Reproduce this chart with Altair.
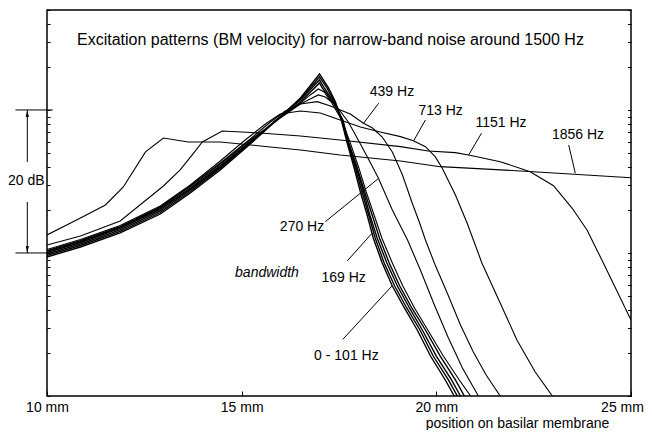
import math
import altair as alt
import pandas as pd

# ---------------- data: position on basilar membrane (mm) / level (dB) ----------------
# bundle of narrow-band curves (0 - 101 Hz)
bw0_mm = [10.00, 10.86, 11.88, 12.91, 13.68, 14.45, 15.22, 15.99, 16.51, 17.00,
          17.23, 17.41, 17.56, 17.71, 17.89, 18.05, 18.23, 18.38, 18.61, 18.87, 19.18, 19.51, 19.85, 20.23, 20.46]
bw0_db = [19.44, 20.84, 22.80, 25.45, 28.39, 31.61, 35.24, 39.02, 41.68, 45.03,
          43.08, 41.12, 38.60, 35.38, 31.89, 28.53, 25.17, 22.10, 18.60, 15.38, 12.31, 9.23, 5.59, 2.24, 0.00]
bw1_mm = [10.00, 10.86, 11.88, 12.91, 13.68, 14.45, 15.22, 15.99, 16.51, 17.00,
          17.19, 17.39, 17.57, 17.73, 17.92, 18.09, 18.27, 18.43, 18.66, 18.93, 19.24, 19.58, 19.92, 20.31, 20.54]
bw1_db = [19.65, 21.05, 23.01, 25.66, 28.60, 31.82, 35.38, 39.09, 41.54, 44.62,
          43.08, 41.12, 38.60, 35.38, 31.89, 28.53, 25.17, 22.10, 18.60, 15.38, 12.31, 9.23, 5.59, 2.24, 0.00]
bw2_mm = [10.00, 10.86, 11.88, 12.91, 13.68, 14.45, 15.22, 15.99, 16.51, 17.00,
          17.12, 17.37, 17.59, 17.74, 17.95, 18.13, 18.30, 18.48, 18.73, 19.00, 19.31, 19.64, 20.00, 20.39, 20.62]
bw2_db = [19.86, 21.26, 23.22, 25.87, 28.81, 31.96, 35.45, 39.09, 41.40, 44.20,
          43.08, 41.12, 38.60, 35.38, 31.89, 28.53, 25.17, 22.10, 18.60, 15.38, 12.31, 9.23, 5.59, 2.24, 0.00]
bw3_mm = [10.00, 10.86, 11.88, 12.91, 13.68, 14.45, 15.22, 15.99, 16.51, 17.00,
          17.07, 17.34, 17.60, 17.75, 17.97, 18.16, 18.36, 18.54, 18.79, 19.06, 19.37, 19.72, 20.10, 20.49, 20.72]
bw3_db = [20.07, 21.47, 23.43, 26.08, 28.95, 32.10, 35.52, 39.02, 41.12, 43.78,
          43.08, 41.12, 38.60, 35.38, 31.89, 28.53, 25.17, 22.10, 18.60, 15.38, 12.31, 9.23, 5.59, 2.24, 0.00]

bw169_mm = [10.00, 10.86, 11.88, 12.91, 13.68, 14.45, 15.22, 15.99, 16.51, 16.76, 16.97, 17.12, 17.30,
            17.57, 17.79, 18.01, 18.20, 18.41, 18.60, 18.87, 19.14, 19.44, 19.78, 20.18, 20.59, 20.88]
bw169_db = [20.21, 21.61, 23.57, 26.22, 29.09, 32.24, 35.59, 38.95, 40.98, 42.10, 42.94, 42.52, 41.12,
            38.60, 35.38, 31.89, 28.53, 25.17, 22.10, 18.60, 15.38, 12.31, 9.23, 5.59, 2.24, 0.00]

bw270_mm = [10.00, 10.86, 11.88, 12.91, 13.68, 14.45, 15.22, 15.99, 16.51, 16.76, 16.97, 17.15, 17.41,
            17.74, 18.05, 18.31, 18.51, 18.87, 19.26, 19.59, 19.95, 20.31, 20.67, 21.08]
bw270_db = [20.28, 21.68, 23.64, 26.36, 29.30, 32.45, 35.80, 38.88, 40.84, 41.54, 42.10, 41.82, 40.70,
            38.32, 35.24, 32.59, 30.49, 26.01, 21.82, 17.62, 12.73, 8.11, 3.92, 0.00]

bw439_mm = [10.00, 10.86, 11.88, 12.91, 13.68, 14.45, 15.22, 15.74, 16.12, 16.51, 16.94, 17.28, 17.79,
            18.12, 18.36, 18.61, 18.87, 19.13, 19.38, 19.59, 19.72, 19.97, 20.28, 20.62, 20.95, 21.28, 21.64]
bw439_db = [20.35, 21.75, 23.71, 26.43, 29.37, 32.59, 35.94, 38.32, 39.86, 40.84, 41.16, 40.56, 39.44,
            38.18, 37.48, 36.22, 34.13, 30.91, 26.99, 23.92, 21.82, 18.32, 14.41, 9.93, 6.15, 2.94, 0.00]

bw713_mm = [10.00, 10.86, 11.88, 12.91, 13.68, 14.45, 15.09, 15.61, 15.99, 16.51, 17.02, 17.53, 18.05,
            18.56, 19.08, 19.41, 19.72, 19.97, 20.15, 20.49, 20.79, 21.17, 21.64, 22.07, 22.54, 22.98]
bw713_db = [20.49, 21.89, 23.84, 26.57, 29.51, 32.87, 35.80, 38.04, 39.44, 39.86, 39.58, 38.60, 37.62,
            36.92, 36.27, 35.71, 34.87, 33.47, 31.89, 28.11, 24.20, 18.60, 13.01, 7.83, 3.36, 0.00]

bw1151_mm = [10.00, 10.86, 11.88, 12.99, 13.42, 13.73, 13.99, 14.50, 15.48, 16.51, 17.53, 19.08, 19.79,
             20.49, 20.83, 21.64, 22.41, 23.01, 23.49, 23.87, 24.29, 25.00]
bw1151_db = [21.12, 22.38, 24.48, 29.37, 31.61, 33.71, 35.52, 37.06, 36.78, 36.36, 35.80, 34.87, 34.27,
             34.03, 33.71, 32.77, 31.37, 29.41, 26.25, 23.22, 18.60, 10.63]

bw1856_mm = [10.00, 10.86, 11.50, 11.96, 12.53, 12.99, 13.63, 14.45, 15.48, 16.51, 17.53, 19.08, 20.10, 22.49, 25.00]
bw1856_db = [22.52, 24.90, 26.71, 29.23, 34.13, 36.08, 35.52, 35.52, 34.97, 34.41, 33.71, 32.87, 32.07, 31.37, 30.53]

curves = [
    ("0 Hz", bw0_mm, bw0_db, 1.4), ("b1", bw1_mm, bw1_db, 1.4), ("b2", bw2_mm, bw2_db, 1.4),
    ("101 Hz", bw3_mm, bw3_db, 1.4), ("169 Hz", bw169_mm, bw169_db, 1.1), ("270 Hz", bw270_mm, bw270_db, 1.1),
    ("439 Hz", bw439_mm, bw439_db, 1.1), ("713 Hz", bw713_mm, bw713_db, 1.1),
    ("1151 Hz", bw1151_mm, bw1151_db, 1.1), ("1856 Hz", bw1856_mm, bw1856_db, 1.1),
]

# annotation texts
label_text = ["439 Hz", "713 Hz", "1151 Hz", "1856 Hz", "270 Hz", "169 Hz", "0 - 101 Hz"]
label_mm = [18.86, 20.11, 21.66, 23.64, 16.55, 17.62, 17.69]
label_db = [42.45, 39.86, 38.14, 36.50, 23.68, 16.46, 5.59]
# leader lines from label to curve
lead_mm = [18.52, 19.72, 21.16, 23.40, 17.15, 17.71, 17.60]
lead_db = [40.94, 38.60, 36.74, 35.10, 24.38, 18.88, 7.93]
lead_mm2 = [18.13, 19.42, 20.83, 23.57, 18.52, 18.35, 18.86]
lead_db2 = [38.14, 35.71, 33.71, 31.15, 30.45, 22.76, 15.38]

title_text = "Excitation patterns (BM velocity) for narrow-band noise around 1500 Hz"
x_tick_values = [10, 15, 20, 25]
x_title = "position on basilar membrane"
# minor ticks of a logarithmic amplitude axis (1..9 per decade), expressed in dB
y_ticks = [round(20 * math.log10(m * d), 3) for d in (1, 10, 100) for m in range(1, 10) if m * d <= 500]
y_domain = [0, 20 * math.log10(500)]

# ---------------- build tables ----------------
rows = []
for name, xs, ys, w in curves:
    for i, (a, b) in enumerate(zip(xs, ys)):
        rows.append({"curve": name, "mm": a, "dB": b, "i": i, "w": w})
df = pd.DataFrame(rows)

FONT = "Liberation Sans"
xscale = alt.Scale(domain=[10, 25], nice=False, zero=False)
yscale = alt.Scale(domain=y_domain, nice=False, zero=False)

xaxis = alt.Axis(values=x_tick_values, labelExpr="datum.value + ' mm'", title=x_title,
                 grid=False, domain=False, tickSize=5, offset=-5, labelPadding=4,
                 labelFontSize=14, labelFont=FONT, labelFlush=False, labelColor="black",
                 labelOffset={"condition": {"test": "datum.value == 25", "value": -9},
                              "value": 0},
                 titleFont=FONT, titleFontSize=14, titleFontWeight="normal", titleColor="black",
                 titleX=470, titleY=36, titleAlign="center", titleBaseline="alphabetic",
                 tickColor="black", orient="bottom")
yaxis_left = alt.Axis(values=y_ticks, labels=False, title=None, grid=False, domain=False,
                      tickSize=3, offset=-3, orient="left", tickColor="black")
yaxis_right = alt.Axis(values=y_ticks, labels=False, title=None, grid=False, domain=False,
                       tickSize=3.5, offset=-3.5, orient="right", tickColor="black")

lines = alt.Chart(df).mark_line(color="black", strokeJoin="miter", clip=True).encode(
    x=alt.X("mm:Q", scale=xscale, axis=xaxis),
    y=alt.Y("dB:Q", scale=yscale, axis=yaxis_left),
    detail="curve:N",
    order="i:Q",
    strokeWidth=alt.StrokeWidth("w:Q", scale=None),
)

right_ticks = alt.Chart(pd.DataFrame({"dB": y_ticks})).mark_point(opacity=0).encode(
    y=alt.Y("dB:Q", scale=yscale, axis=yaxis_right),
)

lab_df = pd.DataFrame({"t": label_text, "mm": label_mm, "dB": label_db})
labels = alt.Chart(lab_df).mark_text(font=FONT, fontSize=14, color="black", align="center",
                                      baseline="middle").encode(
    x=alt.X("mm:Q", scale=xscale, axis=None), y=alt.Y("dB:Q", scale=yscale, axis=None), text="t:N")

lead_df = pd.DataFrame({"mm": lead_mm, "dB": lead_db, "mm2": lead_mm2, "dB2": lead_db2})
leads = alt.Chart(lead_df).mark_rule(color="black", strokeWidth=1).encode(
    x=alt.X("mm:Q", scale=xscale, axis=None), y=alt.Y("dB:Q", scale=yscale, axis=None),
    x2="mm2:Q", y2="dB2:Q")

# 20 dB scale bar, left of the frame
bar_df = pd.DataFrame({"mm": [9.19, 9.19, 9.494, 9.494], "dB": [40, 20, 40, 27.13],
                       "mm2": [10.15, 10.15, 9.494, 9.494], "dB2": [40, 20, 32.73, 20]})
bar = alt.Chart(bar_df).mark_rule(color="black", strokeWidth=1).encode(
    x=alt.X("mm:Q", scale=xscale, axis=None), y=alt.Y("dB:Q", scale=yscale, axis=None),
    x2="mm2:Q", y2="dB2:Q")
arrow_df = pd.DataFrame({"mm": [9.494, 9.494], "dB": [39.51, 20.49],
                         "shape": ["M0,-1L0.45,1L-0.45,1Z", "M0,1L0.45,-1L-0.45,-1Z"]})
arrows = alt.Chart(arrow_df).mark_point(filled=True, color="black", size=49, opacity=1, strokeWidth=0).encode(
    x=alt.X("mm:Q", scale=xscale, axis=None), y=alt.Y("dB:Q", scale=yscale, axis=None),
    shape=alt.Shape("shape:N", scale=None))

db_txt = alt.Chart(pd.DataFrame({"t": ["20 dB"], "mm": [9.47], "dB": [30.07]})).mark_text(
    font=FONT, fontSize=14, color="black", align="center", baseline="middle").encode(
    x=alt.X("mm:Q", scale=xscale, axis=None), y=alt.Y("dB:Q", scale=yscale, axis=None), text="t:N")

bw_txt = alt.Chart(pd.DataFrame({"t": ["bandwidth"], "mm": [15.65], "dB": [17.16]})).mark_text(
    font=FONT, fontSize=14, fontStyle="italic", color="black", align="center", baseline="middle").encode(
    x=alt.X("mm:Q", scale=xscale, axis=None), y=alt.Y("dB:Q", scale=yscale, axis=None), text="t:N")

title = alt.Chart(pd.DataFrame({"t": [title_text], "mm": [17.28], "dB": [49.79]})).mark_text(
    font=FONT, fontSize=16, color="black", align="center", baseline="middle").encode(
    x=alt.X("mm:Q", scale=xscale, axis=None), y=alt.Y("dB:Q", scale=yscale, axis=None), text="t:N")

chart = alt.layer(lines, right_ticks, leads, bar, arrows, labels, db_txt, bw_txt, title).resolve_axis(
    x="independent", y="independent"
).properties(
    width=584, height=386,
    padding={"left": 39, "top": 2, "right": 13, "bottom": 34},
    autosize=alt.AutoSizeParams(type="none"),
).configure_view(stroke="black", strokeWidth=1.5)

chart.save("out.html", embed_options={"renderer": "svg", "actions": False})
